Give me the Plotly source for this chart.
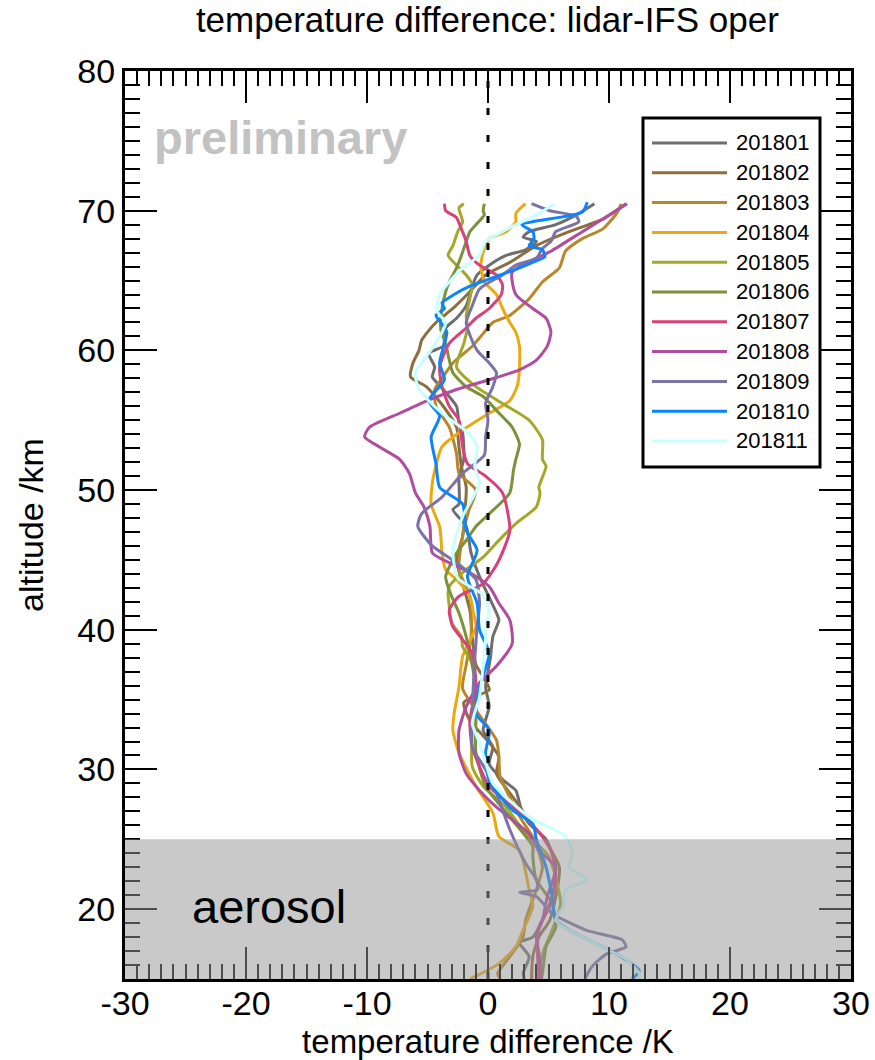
import plotly.graph_objects as go

# ---------------- data ----------------
names = ["201801", "201802", "201803", "201804", "201805", "201806",
         "201807", "201808", "201809", "201810", "201811"]
colors = ["#6E6E6E", "#8C6E3F", "#B8862B", "#EBA911", "#A5A827", "#7B913A",
          "#D9417A", "#B24C9E", "#7D72A8", "#0A84FF", "#C8FFFF"]

alt_201801 = [70.5, 69.7, 69.0, 68.5, 68.1, 67.8, 67.2, 66.8, 66.1, 65.4, 64.6, 63.2, 62.3, 61.6, 60.3,
              59.8, 58.8, 58.1, 57.2, 56.0, 54.8, 54.1, 52.2, 51.0, 49.0, 48.6, 47.4, 45.5, 43.8, 41.2,
              40.7, 39.5, 38.0, 37.0, 35.9, 34.5, 32.8, 31.6, 30.4, 29.2, 28.5, 27.3, 26.1, 25.0, 23.0,
              20.9, 19.2, 18.0, 17.6, 16.6, 15.4, 15.0]
dT_201801 = [8.8, 7.3, 5.6, 3.4, 2.9, 4.0, 3.1, 1.5, 0.1, -0.9, -1.3, -1.8, -2.6, -3.5, -3.7,
             -4.9, -4.4, -4.6, -3.7, -2.6, -2.4, -2.1, -2.0, -2.4, -2.4, -2.9, -1.8, -1.4, -0.7, 0.7,
             0.9, 0.4, 0.2, 0.0, -0.2, 0.1, -0.4, 0.4, 0.1, 1.3, 2.3, 2.7, 3.4, 4.8, 5.6,
             5.3, 4.5, 3.7, 2.6, 3.4, 2.9, 3.0]

alt_201802 = [70.5, 69.4, 68.5, 67.5, 66.3, 65.4, 64.2, 63.0, 62.0, 61.2, 60.7, 60.0, 59.1, 58.1, 57.4,
              56.0, 54.5, 53.1, 51.7, 50.2, 48.5, 46.7, 45.0, 43.6, 41.4, 39.5, 37.5, 36.5, 35.7, 34.8,
              33.5, 32.5, 31.6, 30.9, 29.7, 29.0, 27.5, 26.5, 25.2, 23.0, 20.9, 19.2, 18.0, 16.6, 15.0]
dT_201802 = [11.4, 9.5, 6.7, 4.0, 1.8, -0.2, -1.5, -2.9, -4.3, -5.1, -5.5, -5.7, -6.2, -6.4, -5.1,
             -3.7, -2.6, -2.4, -2.2, -1.8, -1.9, -2.1, -2.6, -2.2, -1.5, -1.3, -1.0, -0.3, 0.1, -2.0,
             -1.5, -0.5, 0.4, 0.9, 0.7, 1.2, 2.5, 3.2, 4.5, 5.9, 5.6, 5.1, 4.2, 3.7, 3.6]

alt_201803 = [70.5, 69.9, 68.7, 68.0, 67.1, 65.9, 64.9, 63.7, 62.5, 62.0, 61.2, 60.3, 59.1, 58.0, 57.2,
              56.0, 54.5, 52.6, 51.2, 50.0, 48.5, 46.7, 44.3, 42.4, 39.5, 37.5, 35.8, 34.0, 32.1, 30.9,
              29.5, 28.0, 26.5, 25.0, 23.0, 21.4, 19.2, 18.0, 16.6, 15.4, 15.0]
dT_201803 = [11.0, 10.7, 9.5, 7.8, 6.4, 5.9, 4.5, 3.4, 1.8, 0.4, -0.4, -1.3, -2.9, -3.8, -4.4,
             -4.3, -3.2, -2.6, -2.4, -1.0, -1.6, -2.1, -2.4, -1.5, -1.4, -1.8, -2.1, -0.8, 0.7, 0.9,
             1.0, 1.8, 2.7, 3.8, 4.5, 4.0, 3.1, 2.9, 1.8, 0.8, 1.0]

alt_201804 = [70.5, 69.8, 69.2, 68.5, 68.0, 67.3, 66.1, 64.9, 64.0, 63.0, 62.0, 61.3, 60.3, 58.6, 57.4,
              56.4, 55.5, 54.3, 53.1, 51.4, 50.5, 49.0, 47.4, 46.7, 45.5, 44.3, 43.6, 42.4, 41.2, 40.2,
              38.1, 35.9, 34.0, 32.8, 31.2, 28.8, 26.9, 25.2, 24.2, 21.4, 20.2, 18.5, 17.3, 16.1, 15.2, 15.0]
dT_201804 = [3.1, 2.3, 2.3, 1.5, 0.1, -0.3, -0.6, -0.3, 0.7, 1.2, 1.8, 2.3, 2.6, 2.6, 2.4,
             1.8, 0.1, -2.1, -3.8, -4.4, -4.6, -4.7, -4.0, -3.9, -3.8, -3.5, -2.6, -1.5, -1.2, -1.0,
             -2.1, -2.4, -2.8, -2.9, -2.4, -1.0, 0.4, 0.9, 2.6, 3.4, 3.7, 2.9, 2.3, 0.9, -1.0, -1.5]

alt_201805 = [70.5, 70.2, 69.2, 68.5, 67.5, 66.8, 66.1, 65.4, 64.7, 63.7, 62.5, 61.6, 60.5, 58.8, 57.4,
              56.2, 55.0, 53.6, 52.2, 51.7, 50.2, 49.8, 48.8, 47.6, 46.4, 45.2, 44.3, 43.1, 42.6, 41.7,
              40.5, 39.5, 38.8, 37.6, 35.9, 32.8, 30.2, 28.8, 27.3, 25.4, 23.8, 20.4, 18.5, 16.8, 15.0]
dT_201805 = [-2.0, -2.4, -2.1, -2.5, -2.9, -3.3, -2.6, -1.8, -1.3, -1.5, -1.8, -1.7, -2.0, -2.6, -1.0,
             1.2, 3.4, 4.5, 4.5, 4.8, 4.2, 4.3, 4.0, 2.3, 0.9, -0.4, -1.8, -3.2, -3.3, -3.2,
             -3.0, -2.2, -2.1, -1.3, -1.0, -1.3, -1.3, -0.4, 1.5, 3.1, 5.0, 6.0, 5.3, 4.5, 4.2]

alt_201806 = [70.5, 70.0, 69.7, 69.0, 68.5, 67.8, 66.8, 65.9, 64.9, 64.2, 63.0, 61.5, 60.5, 59.3, 58.4,
              57.4, 56.7, 55.7, 54.5, 53.3, 52.2, 51.4, 49.8, 48.3, 47.4, 46.4, 45.5, 43.8, 42.6, 41.2,
              39.5, 38.3, 35.9, 33.5, 31.2, 28.8, 26.4, 24.5, 23.8, 22.1, 20.4, 18.7, 17.3, 15.4, 15.0]
dT_201806 = [-0.3, -0.4, -0.3, -1.0, -1.5, -1.8, -2.2, -2.6, -3.2, -3.5, -3.8, -3.9, -3.5, -3.2, -2.9,
             -1.8, -0.4, 0.7, 2.0, 2.6, 2.3, 2.1, 1.8, 0.1, -1.0, -1.8, -2.6, -3.5, -3.1, -2.4,
             -1.8, -1.5, -1.0, -1.0, -1.0, -0.2, 2.0, 3.7, 3.7, 4.0, 5.3, 5.6, 4.8, 4.5, 4.4]

alt_201807 = [70.5, 70.0, 69.5, 68.7, 67.8, 66.8, 66.1, 65.4, 64.7, 64.0, 63.0, 62.3, 61.6, 60.5, 58.8,
              57.4, 56.0, 55.0, 53.1, 51.9, 51.0, 49.8, 47.1, 44.8, 43.3, 42.4, 41.4, 40.2, 39.3, 38.3,
              35.9, 33.5, 31.6, 28.8, 26.9, 25.2, 24.0, 22.1, 20.2, 18.7, 16.8, 15.0]
dT_201807 = [-3.6, -3.5, -2.6, -2.2, -1.8, -1.5, -0.7, 0.7, 1.2, 1.1, 0.1, -1.0, -1.8, -3.2, -4.0,
             -3.8, -3.2, -2.4, -2.1, -1.7, -0.2, 1.2, 1.8, 0.8, -0.4, -2.4, -3.2, -2.9, -2.1, -1.3,
             -1.0, -1.5, -1.3, 0.1, 2.6, 4.5, 5.3, 5.6, 5.1, 4.2, 4.1, 4.2]

alt_201808 = [70.5, 68.5, 67.1, 65.6, 64.0, 63.0, 62.3, 61.3, 60.3, 59.3, 58.6, 57.9, 57.2, 56.4, 55.5,
              54.5, 53.8, 53.1, 52.2, 51.2, 49.8, 48.8, 47.4, 45.5, 44.8, 44.1, 43.1, 41.9, 40.7, 39.0,
              37.4, 36.2, 34.5, 32.8, 31.2, 29.7, 28.5, 27.3, 26.4, 25.4, 24.2, 23.0, 20.9, 19.2, 18.0,
              16.9, 15.0]
dT_201808 = [11.5, 7.8, 5.2, 2.0, 2.3, 3.7, 4.8, 5.2, 4.9, 4.0, 2.6, 0.1, -2.6, -5.0, -7.3,
             -9.8, -10.2, -9.0, -7.3, -6.5, -6.0, -5.3, -4.8, -4.6, -3.2, -1.5, 0.1, 0.9, 1.8, 2.0,
             0.7, -0.7, -1.8, -2.4, -2.4, -1.8, -0.7, 0.7, 2.0, 3.4, 4.2, 5.6, 4.9, 4.5, 4.0,
             4.2, 4.4]

alt_201809 = [70.5, 70.0, 69.6, 69.2, 68.5, 67.8, 67.3, 66.6, 66.1, 65.4, 64.4, 63.2, 62.0, 61.1, 60.0,
              59.1, 58.4, 57.4, 56.2, 55.0, 53.8, 52.5, 51.2, 49.5, 48.3, 47.4, 46.0, 44.8, 43.6, 41.9,
              40.2, 37.8, 34.0, 31.6, 30.0, 28.3, 25.7, 23.3, 22.1, 21.4, 21.2, 20.9, 19.7, 18.5, 17.8,
              17.3, 16.8, 15.9, 15.0]
dT_201809 = [3.6, 5.1, 7.3, 7.5, 5.6, 5.2, 4.5, 4.0, 2.3, 1.2, -0.7, -1.3, -1.8, -1.5, -0.9,
             0.1, 0.7, 0.4, -0.2, 0.0, -0.2, -0.3, -2.1, -3.8, -5.5, -5.8, -4.6, -2.6, -1.0, -0.7,
             -0.9, -1.1, -1.3, -1.3, -0.2, 0.7, 1.8, 3.1, 4.0, 4.1, 2.6, 4.0, 5.3, 8.1, 11.1,
             11.4, 9.8, 8.6, 8.0]

alt_201810 = [70.6, 69.9, 69.0, 68.5, 68.0, 67.5, 67.2, 66.7, 66.3, 65.8, 65.2, 64.6, 64.0, 63.4, 63.0,
              62.5, 62.0, 61.3, 59.1, 57.9, 56.4, 55.3, 53.8, 51.9, 50.2, 49.0, 47.1, 45.7, 43.8, 41.9,
              40.0, 38.3, 35.9, 34.0, 32.8, 31.2, 29.2, 27.1, 26.1, 25.0, 23.0, 20.9, 19.2, 18.0, 16.8,
              15.6, 15.0]
dT_201810 = [8.2, 7.8, 2.8, 3.7, 3.8, 3.4, 4.5, 4.7, 3.7, 2.3, 0.4, -1.5, -2.8, -3.8, -3.6,
             -4.3, -3.9, -3.4, -4.0, -3.6, -4.9, -4.0, -4.7, -4.3, -4.0, -2.1, -1.8, -0.9, -1.7, -0.9,
             -0.7, 0.1, -0.7, -1.0, 0.1, -0.2, 0.1, 2.0, 3.7, 4.0, 4.8, 5.3, 5.6, 7.8, 10.6,
             12.5, 11.9]

alt_201811 = [70.5, 69.7, 69.0, 68.5, 67.8, 66.8, 65.9, 64.9, 64.0, 62.8, 62.0, 61.3, 59.8, 58.4, 57.4,
              56.4, 55.3, 54.0, 53.1, 51.7, 50.5, 48.1, 45.7, 43.7, 42.5, 41.4, 40.2, 39.3, 35.2, 33.3,
              31.9, 30.5, 29.0, 26.6, 25.2, 24.0, 23.0, 22.1, 21.4, 20.2, 19.2, 18.0, 16.4, 15.4, 15.0]
dT_201811 = [5.5, 4.0, 2.3, 1.2, -0.2, -0.7, -2.1, -3.2, -4.0, -4.2, -3.5, -3.8, -4.9, -6.0, -5.8,
             -4.9, -3.5, -1.5, -0.9, -1.1, -0.7, -2.1, -2.9, -2.5, -0.4, 0.1, -0.2, -0.2, -0.7, -1.3,
             -0.7, -0.2, 0.4, 3.4, 6.4, 7.0, 6.7, 8.2, 6.4, 6.2, 5.6, 7.8, 11.4, 12.5, 12.5]

altitudes = [alt_201801, alt_201802, alt_201803, alt_201804, alt_201805, alt_201806,
             alt_201807, alt_201808, alt_201809, alt_201810, alt_201811]
differences = [dT_201801, dT_201802, dT_201803, dT_201804, dT_201805, dT_201806,
               dT_201807, dT_201808, dT_201809, dT_201810, dT_201811]

x_range = [-30, 30]
y_range = [15, 80]
aerosol_band = [15, 25]
x_ticks = [-30, -20, -10, 0, 10, 20, 30]
x_ticklabels = ["-30", "-20", "-10", "0", "10", "20", "30"]
y_ticks = [20, 30, 40, 50, 60, 70, 80]
y_ticklabels = ["20", "30", "40", "50", "60", "70", "80"]

# ---------------- figure ----------------
FONT = "Liberation Sans, Arial, Helvetica, sans-serif"
W, H = 875, 1060
ML, MR, MT, MB = 125, 24, 71, 81
PW, PH = W - ML - MR, H - MT - MB

fig = go.Figure()
for name, col, a, d in zip(names, colors, altitudes, differences):
    fig.add_trace(go.Scatter(x=d, y=a, mode="lines", name=name,
                             line=dict(color=col, width=3, shape="spline", smoothing=0.6),
                             showlegend=False))

shapes = []
# zero line (dotted)
shapes.append(dict(type="line", xref="x", yref="y", x0=0, x1=0, y0=y_range[0], y1=y_range[1],
                   line=dict(color="black", width=3, dash="7px,20px"), layer="above"))
# aerosol shading (semi-transparent, over lines and ticks)
shapes.append(dict(type="rect", xref="x", yref="y", x0=x_range[0], x1=x_range[1],
                   y0=aerosol_band[0], y1=aerosol_band[1],
                   fillcolor="rgba(150,150,150,0.51)", line=dict(width=0), layer="above"))

# manual legend box
def px2x(px):
    return (px - ML) / PW

def py2y(py):
    return (MT + PH - py) / PH

LEG_L, LEG_R, LEG_T, LEG_B = 643, 820, 118, 467
shapes.append(dict(type="rect", xref="paper", yref="paper",
                   x0=px2x(LEG_L), x1=px2x(LEG_R), y0=py2y(LEG_B), y1=py2y(LEG_T),
                   fillcolor="white", line=dict(color="black", width=3), layer="above"))
annotations = []
for i, (name, col) in enumerate(zip(names, colors)):
    yy = py2y(143 + 29.8 * i)
    shapes.append(dict(type="line", xref="paper", yref="paper",
                       x0=px2x(652), x1=px2x(727), y0=yy, y1=yy,
                       line=dict(color=col, width=3), layer="above"))
    annotations.append(dict(xref="paper", yref="paper", x=px2x(734), y=yy, text=name,
                            showarrow=False, xanchor="left", yanchor="middle",
                            font=dict(family=FONT, size=22, color="black")))

annotations.append(dict(xref="paper", yref="paper", x=px2x(152), y=py2y(137), text="<b>preliminary</b>",
                        showarrow=False, xanchor="left", yanchor="middle",
                        font=dict(family=FONT, size=47, color="#C2C2C2")))
annotations.append(dict(xref="paper", yref="paper", x=px2x(190), y=py2y(906), text="aerosol",
                        showarrow=False, xanchor="left", yanchor="middle",
                        font=dict(family=FONT, size=47, color="black")))

axis_common = dict(showline=True, linecolor="black", linewidth=3, mirror="allticks",
                   ticks="inside", ticklen=32, tickwidth=2, tickcolor="black",
                   showgrid=False, zeroline=False,
                   tickfont=dict(family=FONT, size=34, color="black"))

fig.update_layout(
    width=W, height=H,
    margin=dict(l=ML, r=MR, t=MT, b=MB, autoexpand=False),
    paper_bgcolor="white", plot_bgcolor="white",
    showlegend=False,
    title=dict(text="temperature difference: lidar-IFS oper", x=0.557, xanchor="center",
               y=1 - 20 / H, yanchor="middle", yref="container",
               font=dict(family=FONT, size=35, color="black")),
    xaxis=dict(range=x_range, tickvals=x_ticks, ticktext=x_ticklabels, **axis_common,
               ticklabelstandoff=-8,
               minor=dict(dtick=1, ticklen=15, tickwidth=2, tickcolor="black", ticks="inside"),
               title=dict(text="temperature difference /K", standoff=10,
                          font=dict(family=FONT, size=33, color="black"))),
    yaxis=dict(range=y_range, tickvals=y_ticks, ticktext=y_ticklabels, **axis_common,
               minor=dict(dtick=1, ticklen=15, tickwidth=2, tickcolor="black", ticks="inside"),
               title=dict(text="altitude /km", standoff=24,
                          font=dict(family=FONT, size=34, color="black"))),
    shapes=shapes,
    annotations=annotations,
)

fig.write_html("out.html")
